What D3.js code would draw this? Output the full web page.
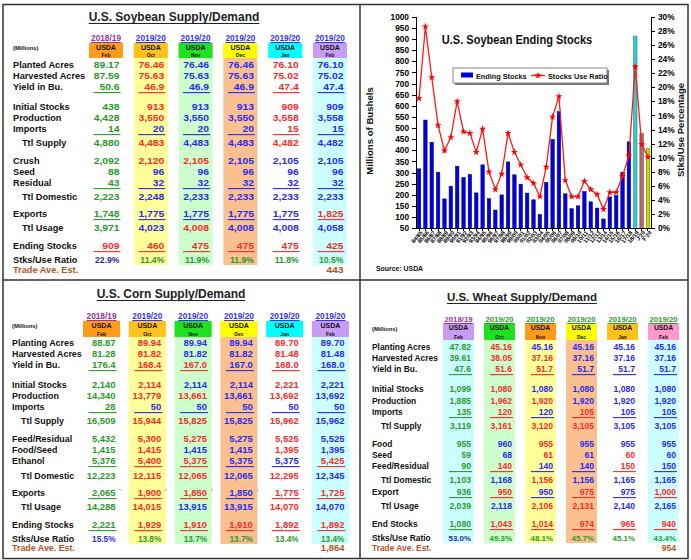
<!doctype html>
<html lang="en">
<head>
<meta charset="utf-8">
<title>U.S. Soybean, Corn and Wheat Supply/Demand</title>
<style>
body { margin: 0; background: #fff; }
svg { font-family: "Liberation Sans", Arial, sans-serif; }
.axis path, .axis line { fill: none; stroke: #000; shape-rendering: crispEdges; }
.axis text { font-weight: bold; fill: #000; }
</style>
</head>
<body>
<script src="https://d3js.org/d3.v7.min.js"></script>
<script>
// ---- table data (millions) ----
var months = ["Feb", "Oct", "Nov", "Dec", "Jan", "Feb"];
var years = ["2018/19", "2019/20", "2019/20", "2019/20", "2019/20", "2019/20"];

var soyRows = ["Planted Acres", "Harvested Acres", "Yield in Bu.", "Initial Stocks", "Production", "Imports",
  "Ttl Supply", "Crush", "Seed", "Residual", "Ttl Domestic", "Exports", "Ttl Usage", "Ending Stocks",
  "Stks/Use Ratio", "Trade Ave. Est."];
var soyFeb19 = ["89.17","87.59","50.6","438","4,428","14","4,880","2,092","88","43","2,223","1,748","3,971","909","22.9%",""];
var soyOct = ["76.46","75.63","46.9","913","3,550","20","4,483","2,120","96","32","2,248","1,775","4,023","460","11.4%",""];
var soyNov = ["76.46","75.63","46.9","913","3,550","20","4,483","2,105","96","32","2,233","1,775","4,008","475","11.9%",""];
var soyDec = ["76.46","75.63","46.9","913","3,550","20","4,483","2,105","96","32","2,233","1,775","4,008","475","11.9%",""];
var soyJan = ["76.10","75.02","47.4","909","3,558","15","4,482","2,105","96","32","2,233","1,775","4,008","475","11.8%",""];
var soyFeb = ["76.10","75.02","47.4","909","3,558","15","4,482","2,105","96","32","2,233","1,825","4,058","425","10.5%","443"];

var cornRows = ["Planting Acres", "Harvested Acres", "Yield in Bu.", "Initial Stocks", "Production", "Imports",
  "Ttl Supply", "Feed/Residual", "Food/Seed", "Ethanol", "Ttl Domestic", "Exports", "Ttl Usage", "Ending Stocks",
  "Stks/Use Ratio", "Trade Ave. Est."];
var cornFeb19 = ["88.87","81.28","176.4","2,140","14,340","28","16,509","5,432","1,415","5,376","12,223","2,065","14,288","2,221","15.5%",""];
var cornOct = ["89.94","81.82","168.4","2,114","13,779","50","15,944","5,300","1,415","5,400","12,115","1,900","14,015","1,929","13.8%",""];
var cornNov = ["89.94","81.82","167.0","2,114","13,661","50","15,825","5,275","1,415","5,375","12,065","1,850","13,915","1,910","13.7%",""];
var cornDec = ["89.94","81.82","167.0","2,114","13,661","50","15,825","5,275","1,415","5,375","12,065","1,850","13,915","1,910","13.7%",""];
var cornJan = ["89.70","81.48","168.0","2,221","13,692","50","15,962","5,525","1,395","5,375","12,295","1,775","14,070","1,892","13.4%",""];
var cornFeb = ["89.70","81.48","168.0","2,221","13,692","50","15,962","5,525","1,395","5,425","12,345","1,725","14,070","1,892","13.4%","1,864"];

var wheatRows = ["Planting Acres", "Harvested Acres", "Yield in Bu.", "Initial Stocks", "Production", "Imports",
  "Ttl Supply", "Food", "Seed", "Feed/Residual", "Ttl Domestic", "Export", "Ttl Usage", "End Stocks",
  "Stks/Use Ratio", "Trade Ave. Est."];
var wheatFeb19 = ["47.82","39.61","47.6","1,099","1,885","135","3,119","955","59","90","1,103","936","2,039","1,080","53.0%",""];
var wheatOct = ["45.16","38.05","51.6","1,080","1,962","120","3,161","960","68","140","1,168","950","2,118","1,043","49.3%",""];
var wheatNov = ["45.16","37.16","51.7","1,080","1,920","120","3,120","955","61","140","1,156","950","2,106","1,014","48.1%",""];
var wheatDec = ["45.16","37.16","51.7","1,080","1,920","105","3,105","955","61","140","1,156","975","2,131","974","45.7%",""];
var wheatJan = ["45.16","37.16","51.7","1,080","1,920","105","3,105","955","60","150","1,165","975","2,140","965","45.1%",""];
var wheatFeb = ["45.16","37.16","51.7","1,080","1,920","105","3,105","955","60","150","1,165","1,000","2,165","940","43.4%","954"];

// ---- ending stocks chart data ----
var seasons = ["84/85","85/86","86/87","87/88","88/89","89/90","90/91","91/92","92/93","93/94","94/95","95/96",
  "96/97","97/98","98/99","99/00","00/01","01/02","02/03","03/04","04/05","05/06","06/07","07/08","08/09",
  "09/10","10/11","11/12","12/13","13/14","14/15","15/16","16/17","17/18","18/19","J'20","F'20"];
var endingStocks = [317,536,436,302,182,239,329,278,292,209,335,183,132,200,348,290,248,208,178,112,256,449,
  574,205,138,151,215,169,141,92,191,197,302,438,913,475,410];
var stocksUse = [18.4,28.6,21.4,14.6,11.0,12.9,18.0,13.7,13.5,10.8,14.1,8.0,5.5,7.7,13.5,10.8,9.0,7.2,6.4,4.5,
  8.7,15.8,18.7,6.8,4.5,4.5,6.7,5.5,4.8,2.7,5.1,5.1,7.4,10.3,22.9,11.9,10.1];

// ---- styling: cell ink codes per column (g green, r red, b blue, d navy, n brown) ----
var ink = { g: "#2a9a2a", r: "#ff2a2a", b: "#2b2bf0", d: "#2b2b99", n: "#b3561d", "-": "#000" };
var soyInk = ["gggggggggggggrd-", "rrrrrbrrbbbbbrg-", "bbbbbbbrbbbbrrg-", "bbbbbbbbbbbbbrg-", "rrrrrrrbbbbbbrg-", "bbbbbbbbbbbrbrgn"];
var cornInk = ["ggggggggggggggb-", "rrrrrbrrrrrrrrg-", "bbrbrbrrbrrrbrg-", "bbbbbbbbbbbbbrg-", "rrrrrbrrrbrrrrg-", "bbbbbbbbbrbrbrgn"];
var wheatInk = ["ggggggggggggggd-", "rrrrrrrbbrbrbrg-", "brrbrbrrrbrbrrg-", "bbbbbrrbbbbrrrg-", "bbbbbbbbrrbbbrg-", "bbbbbbbbbbbrbrgn"];

var W = 691, H = 560;
var svg = d3.select("body").append("svg").attr("width", W).attr("height", H);
svg.append("rect").attr("width", W).attr("height", H).attr("fill", "#fff");

function txt(g, x, y, s, fs, o) {
  o = o || {};
  var t = g.append("text").attr("x", x).attr("y", y).text(s)
    .attr("font-size", fs).attr("font-weight", o.w || "bold")
    .attr("fill", o.c || "#111").attr("text-anchor", o.a || "start");
  if (o.sx) t.attr("transform", "translate(" + x + "," + y + ") scale(" + o.sx + ",1) translate(" + (-x) + "," + (-y) + ")");
  return t;
}
function underline(g, t, y, c) {
  var len = t.node().getComputedTextLength();
  var x = +t.attr("x"), a = t.attr("text-anchor");
  var x0 = a === "middle" ? x - len / 2 : (a === "end" ? x - len : x);
  g.append("line").attr("x1", x0).attr("x2", x0 + len).attr("y1", y).attr("y2", y)
    .attr("stroke", c).attr("stroke-width", 1);
}

var ulRows = [2, 5, 9, 11, 13], indentRows = [6, 10, 12];

function drawTable(spec) {
  var g = svg.append("g");
  var cols = d3.range(6);
  var x = d3.scaleBand().domain(cols).range(spec.xRange).paddingInner(spec.pad);
  var y = d3.scaleOrdinal().domain(d3.range(16)).range(spec.offsets.map(function(o) { return spec.rowTop + o; }));
  var bw = x.bandwidth();

  // column backgrounds and header boxes
  g.selectAll(".bg").data(cols.filter(function(c) { return spec.bg[c]; })).enter().append("rect")
    .attr("x", function(c) { return x(c); }).attr("y", spec.boxY)
    .attr("width", bw).attr("height", spec.bgBottom - spec.boxY)
    .attr("fill", function(c) { return spec.bg[c]; });
  g.selectAll(".hd").data(cols).enter().append("rect")
    .attr("x", function(c) { return x(c); }).attr("y", spec.boxY)
    .attr("width", bw).attr("height", spec.boxH)
    .attr("fill", function(c) { return spec.head[c]; });

  var tt = txt(g, spec.titleX, spec.titleY, spec.title, spec.titleFs, { a: "middle", c: "#222" });
  underline(g, tt, spec.titleY + 2.5, "#222");

  cols.forEach(function(c) {
    var cx = x(c) + bw / 2;
    var yc = c === 0 ? "#993399" : spec.yearInk;
    var yt = txt(g, cx, spec.yearY, years[c], spec.yearFs, { a: "middle", c: yc });
    underline(g, yt, spec.yearY + 1.5, yc);
    txt(g, cx, spec.boxY + 7.4, "USDA", spec.usdaFs, { a: "middle" });
    txt(g, cx, spec.boxY + spec.boxH - 1.1, months[c], 5, { a: "middle" });
  });
  txt(g, spec.labelX, spec.millionsY, "(Millions)", 5.8);

  spec.rows.forEach(function(r, i) {
    var lx = indentRows.indexOf(i) >= 0 ? spec.indentX : spec.labelX;
    txt(g, lx, y(i), r, spec.labelFs, { c: i === 15 ? ink.n : "#111" });
  });

  spec.cols.forEach(function(vals, c) {
    var right = x(c) + bw / 2 + spec.rightK;
    vals.forEach(function(v, i) {
      if (!v) return;
      var col = ink[spec.ink[c][i]];
      var isRatio = i === 14;
      txt(g, right, y(i), v, isRatio ? spec.numFs * 0.92 : spec.numFs,
        { a: "end", c: col, sx: isRatio ? 1 : spec.numSx });
      if (ulRows.indexOf(i) >= 0) {
        g.append("line").attr("x1", right - spec.ulW).attr("x2", right + 1)
          .attr("y1", y(i) + 2.6).attr("y2", y(i) + 2.6)
          .attr("stroke", col).attr("stroke-width", 1.1);
      }
      if (spec.flagRow === i && c < 5) {
        txt(g, right + 4, y(i) - 3, "'", 6, { c: ink.r });
      }
    });
  });
}

var headSC = ["#ff9b1a", "#ffc21a", "#20e020", "#ffff00", "#00ffff", "#c79cf5"];
var bgSC = [null, "#ffff99", "#ccffcc", "#fac090", null, "#ccffff"];

drawTable({
  title: "U.S. Soybean Supply/Demand", titleX: 174, titleY: 21, titleFs: 12,
  rows: soyRows, cols: [soyFeb19, soyOct, soyNov, soyDec, soyJan, soyFeb], ink: soyInk,
  head: headSC, bg: bgSC, yearInk: "#3333ff",
  xRange: [89, 347], pad: 0.24, boxY: 43, boxH: 15, bgBottom: 265, yearY: 41, yearFs: 8.3, usdaFs: 7,
  rowTop: 68, offsets: [0,11,22,42,53,64,78,96,107,118,132,149,163,181,195,205],
  labelX: 13, indentX: 22, millionsY: 50, labelFs: 9.2, numFs: 9.4, numSx: 1.1, rightK: 13.5, ulW: 26
});
drawTable({
  title: "U.S. Corn Supply/Demand", titleX: 171, titleY: 298, titleFs: 12,
  rows: cornRows, cols: [cornFeb19, cornOct, cornNov, cornDec, cornJan, cornFeb], ink: cornInk,
  head: headSC, bg: bgSC, yearInk: "#3333ff", flagRow: 11,
  xRange: [83, 349], pad: 0.19, boxY: 321, boxH: 16, bgBottom: 544, yearY: 319, yearFs: 8.3, usdaFs: 7,
  rowTop: 346, offsets: [0,11,22,42,53,64,78,96,107,118,133,150,164,182,196,205],
  labelX: 12, indentX: 21, millionsY: 328, labelFs: 8.9, numFs: 9, numSx: 1.05, rightK: 14, ulW: 27
});
drawTable({
  title: "U.S. Wheat Supply/Demand", titleX: 522, titleY: 301, titleFs: 11.5,
  rows: wheatRows, cols: [wheatFeb19, wheatOct, wheatNov, wheatDec, wheatJan, wheatFeb], ink: wheatInk,
  head: ["#c79cf5", "#20e020", "#ff9b1a", "#ffff00", "#ffc21a", "#ff99cc"],
  bg: ["#ccffff", "#ccffcc", "#ffff99", "#fac090", null, "#ccffff"], yearInk: "#339933",
  xRange: [443, 679], pad: 0.245, boxY: 323, boxH: 17, bgBottom: 543, yearY: 322, yearFs: 7.8, usdaFs: 6.8,
  rowTop: 350, offsets: [0,11,22,42,54,65,79,97,108,119,133,145,159,177,191,201],
  labelX: 372, indentX: 381, millionsY: 331, labelFs: 8.4, numFs: 8.6, numSx: 1, rightK: 12.5, ulW: 22
});

// ---- ending stocks chart ----
var ch = svg.append("g");
var cx = d3.scaleBand().domain(seasons).range([416, 651]).paddingInner(0.45).paddingOuter(0.2);
var yL = d3.scaleLinear().domain([50, 1000]).range([228.3, 16.7]);
var yR = d3.scaleLinear().domain([0, 30]).range([228.3, 16.7]);
var barFill = d3.scaleOrdinal().domain(seasons.slice(-3)).range(["#33cccc", "#b86a6a", "#d4d400"]).unknown("#0000e0");
var barEdge = d3.scaleOrdinal().domain(seasons.slice(-3)).range(["#1a6f6f", "#5a2a2a", "#666600"]).unknown("#00006a");

ch.selectAll(".bar").data(seasons).enter().append("rect")
  .attr("x", function(d) { return cx(d); })
  .attr("width", cx.bandwidth())
  .attr("y", function(d, i) { return yL(endingStocks[i]); })
  .attr("height", function(d, i) { return yL(50) - yL(endingStocks[i]); })
  .attr("fill", barFill).attr("stroke", barEdge).attr("stroke-width", 0.5);

var line = d3.line()
  .x(function(d, i) { return cx(seasons[i]) + cx.bandwidth() / 2; })
  .y(function(d) { return yR(d); });
ch.append("path").datum(stocksUse).attr("d", line)
  .attr("fill", "none").attr("stroke", "#ff1a1a").attr("stroke-width", 1.3);
var star = d3.symbol().type(d3.symbolStar).size(16);
ch.selectAll(".pt").data(stocksUse).enter().append("path")
  .attr("d", star)
  .attr("transform", function(d, i) { return "translate(" + (cx(seasons[i]) + cx.bandwidth() / 2) + "," + yR(d) + ")"; })
  .attr("fill", "#ff0000");

var axL = ch.append("g").attr("class", "axis").attr("transform", "translate(416,0)")
  .call(d3.axisLeft(yL).tickValues(d3.range(50, 1001, 50)).tickSize(4).tickPadding(3).tickFormat(d3.format("d")));
axL.selectAll("text").attr("font-size", 8.3);
var axR = ch.append("g").attr("class", "axis").attr("transform", "translate(651,0)")
  .call(d3.axisRight(yR).tickValues(d3.range(0, 31, 2)).tickSize(4).tickPadding(3).tickFormat(function(d) { return d + "%"; }));
axR.selectAll("text").attr("font-size", 8.3);
var axB = ch.append("g").attr("class", "axis").attr("transform", "translate(0,228.3)")
  .call(d3.axisBottom(cx).tickSize(3).tickSizeOuter(0));
axB.selectAll("text").attr("font-size", 5.6)
  .attr("x", -1).attr("y", 4).attr("dy", "0.35em")
  .attr("transform", "rotate(-50)").style("text-anchor", "end");

txt(ch, 0, 0, "Millions of Bushels", 9.6, { a: "middle" }).attr("transform", "translate(373,131) rotate(-90)");
txt(ch, 0, 0, "Stks/Use Percentage", 9.5, { a: "middle" }).attr("transform", "translate(684,130) rotate(-90)");
txt(ch, 517, 44, "U.S. Soybean Ending Stocks", 13.5, { a: "middle", c: "#111", sx: 0.82 });
txt(ch, 376, 271, "Source: USDA", 6.9);

// legend
var lg = ch.append("g");
lg.append("rect").attr("x", 455).attr("y", 70).attr("width", 154).attr("height", 15).attr("fill", "#777");
lg.append("rect").attr("x", 453).attr("y", 68).attr("width", 154).attr("height", 15).attr("fill", "#fff").attr("stroke", "#888");
lg.append("rect").attr("x", 461).attr("y", 72.5).attr("width", 12).attr("height", 5).attr("fill", "#0000e0");
txt(lg, 476, 78.5, "Ending Stocks", 7.3);
lg.append("line").attr("x1", 531).attr("x2", 545).attr("y1", 75.5).attr("y2", 75.5).attr("stroke", "#ff1a1a").attr("stroke-width", 1.3);
lg.append("path").attr("d", star).attr("transform", "translate(538,75.5)").attr("fill", "#ff0000");
txt(lg, 548, 78.5, "Stocks Use Ratio", 7.3);

// ---- frames ----
var fr = svg.append("g").attr("fill", "none").attr("stroke", "#333");
fr.append("rect").attr("x", 3).attr("y", 4.5).attr("width", 685).attr("height", 554).attr("stroke-width", 1.5);
fr.append("line").attr("x1", 360).attr("x2", 360).attr("y1", 4).attr("y2", 559).attr("stroke-width", 1.5);
fr.append("line").attr("x1", 3).attr("x2", 688).attr("y1", 280).attr("y2", 280).attr("stroke-width", 1.5);
</script>
</body>
</html>
